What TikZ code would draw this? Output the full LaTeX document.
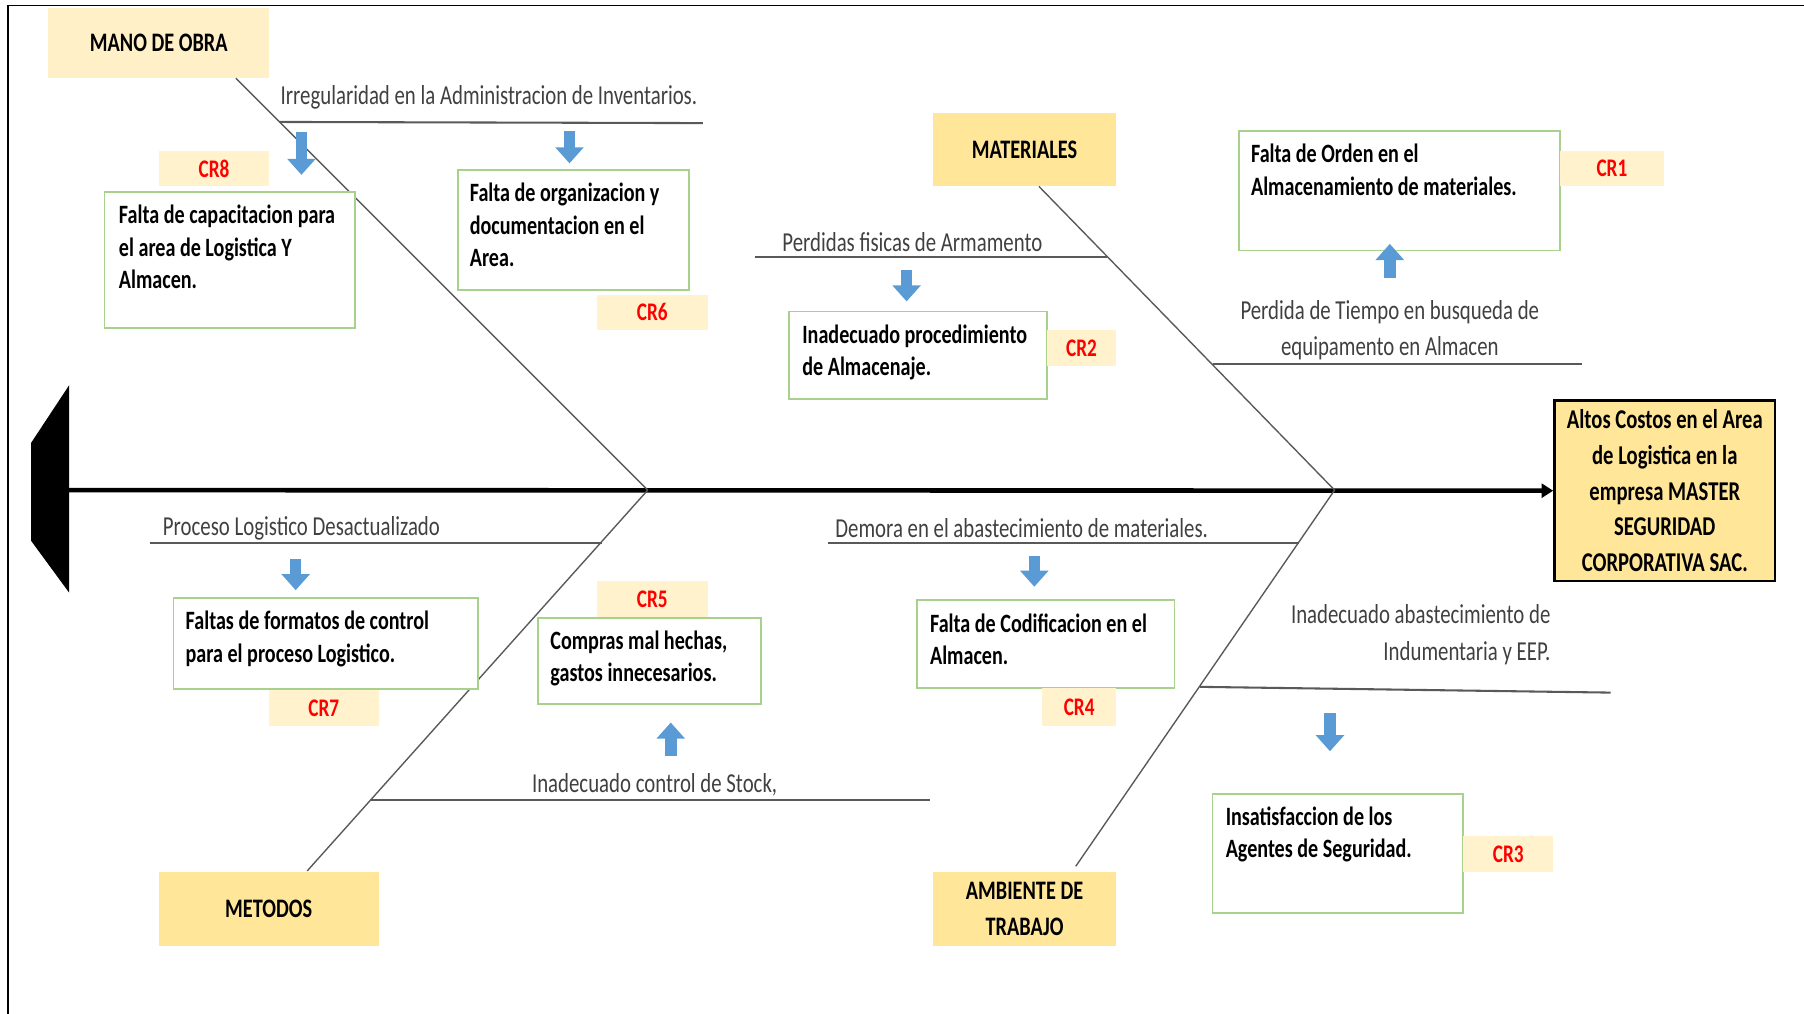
\documentclass[tikz,border=0pt]{standalone}
\usepackage{fontspec}
\setmainfont{Carlito}[FakeStretch=0.76]
\usetikzlibrary{arrows.meta,positioning}
\definecolor{catgold}{HTML}{FFE699}
\definecolor{manocream}{HTML}{FFF0C8}
\definecolor{crcream}{HTML}{FFF2CC}
\definecolor{boxgreen}{HTML}{A9D18E}
\definecolor{arrowblue}{HTML}{5B9BD5}
\definecolor{bonegrey}{HTML}{595959}
\definecolor{causegrey}{HTML}{404040}
\tikzset{
  category/.style={fill=catgold,inner sep=0,align=center,font=\fontsize{11.6}{15.5}\selectfont\bfseries},
  effectbox/.style={fill=catgold,draw=black,line width=1pt,inner sep=0,align=center,font=\fontsize{11.8}{15.5}\selectfont\bfseries},
  causebox/.style={draw=boxgreen,line width=0.8pt,fill=white,inner sep=0,anchor=north west},
  boxtext/.style={inner sep=0,anchor=north west,align=left,font=\fontsize{11.5}{14}\selectfont\bfseries},
  crtag/.style={fill=crcream,inner sep=0,text=red,font=\fontsize{11}{13}\selectfont\bfseries},
  causetext/.style={inner sep=0,text=causegrey,font=\fontsize{11.9}{16}\selectfont},
  bone/.style={draw=bonegrey,line width=0.6pt},
  subbone/.style={draw=bonegrey,line width=0.9pt},
  bluearrow/.style={draw=arrowblue,line width=5pt,-{Triangle[width=12pt,length=7pt]}}
}
\begin{document}
\begin{tikzpicture}[x=0.5pt,y=-0.5pt]
  \useasboundingbox (0,0) rectangle (1568,881);
  \draw[line width=0.6pt] (1568,5) -- (7,5) -- (7,881);

  % spine and tail
  \fill (60,335) -- (27,385) -- (27,470) -- (60,515) -- cycle;
  \path (1447,426.5) node[effectbox,minimum width=96pt,minimum height=78.5pt](effect)
    {Altos Costos en el Area\\de Logistica en la\\empresa MASTER\\SEGURIDAD\\CORPORATIVA SAC.};
  \coordinate (tail) at (60,426);
  \draw[line width=2pt,-{Triangle[length=5pt,width=6pt]}] (tail) -- (effect.west);

  % categories
  \path (138,37.5) node[category,fill=manocream,minimum width=96pt,minimum height=30.5pt](mano){MANO DE OBRA};
  \path (890.5,130) node[category,minimum width=79.5pt,minimum height=32pt](materiales){MATERIALES};
  \path (233.5,790) node[category,minimum width=95.5pt,minimum height=32pt](metodos){METODOS};
  \path (890.5,790) node[category,minimum width=79.5pt,minimum height=32pt](ambiente){AMBIENTE DE\\TRABAJO};

  % main bones
  \coordinate (jleft) at (563,426);
  \coordinate (jright) at (1160,426);
  \coordinate (manoend) at (205,68);
  \coordinate (matend) at (903,162);
  \coordinate (metend) at (267,757);
  \coordinate (ambend) at (935,753);
  \draw[bone] (manoend) -- (jleft);
  \draw[bone] (metend) -- (jleft);
  \draw[bone] (matend) -- (jright);
  \draw[bone] (ambend) -- (jright);

  % causes
  \coordinate (irregA) at (243,106);  \coordinate (irregB) at (611,107);
  \coordinate (perdA) at (656,223);   \coordinate (perdB) at (962,223);
  \coordinate (tiempoA) at (1054,316); \coordinate (tiempoB) at (1375,316);
  \coordinate (procA) at (130,472);   \coordinate (procB) at (523,472);
  \coordinate (demA) at (720,472);    \coordinate (demB) at (1129,472);
  \coordinate (indA) at (1043,597);   \coordinate (indB) at (1400,602);
  \coordinate (stockA) at (322,695);  \coordinate (stockB) at (808,695);
  \draw[subbone] (irregA) -- (irregB);
  \draw[subbone] (perdA) -- (perdB);
  \draw[subbone] (tiempoA) -- (tiempoB);
  \draw[subbone] (procA) -- (procB);
  \draw[subbone] (demA) -- (demB);
  \draw[subbone] (indA) -- (indB);
  \draw[subbone] (stockA) -- (stockB);
  \path (425,85) node[causetext](irreg){Irregularidad en la Administracion de Inventarios.};
  \path (793,210) node[causetext](perd){Perdidas fisicas de Armamento};
  \path (1208,287) node[causetext,align=center](tiempo){Perdida de Tiempo en busqueda de\\equipamento en Almacen};
  \path (262,459) node[causetext](proc){Proceso Logistico Desactualizado};
  \path (888,459) node[causetext](demora){Demora en el abastecimiento de materiales.};
  \path (1348,551.5) node[causetext,align=right,anchor=east](indum){Inadecuado abastecimiento de\\Indumentaria y EEP.};
  \path (569,682) node[causetext](stock){Inadecuado control de Stock,};

  % root causes
  \path (90,166) node[causebox,minimum width=109pt,minimum height=59pt](cr8box){};
  \path (397,147) node[causebox,minimum width=100.5pt,minimum height=52pt](cr6box){};
  \path (685,270) node[causebox,minimum width=112pt,minimum height=38pt](cr2box){};
  \path (1076,113) node[causebox,minimum width=139.5pt,minimum height=52pt](cr1box){};
  \path (150,519) node[causebox,minimum width=132.5pt,minimum height=39.5pt](cr7box){};
  \path (467,536) node[causebox,minimum width=97pt,minimum height=37.5pt](cr5box){};
  \path (796,521) node[causebox,minimum width=112pt,minimum height=38pt](cr4box){};
  \path (1053,689) node[causebox,minimum width=109pt,minimum height=52pt](cr3box){};
  \node[boxtext] at ([xshift=6.5pt,yshift=-6pt]cr8box.north west) {Falta de capacitacion para\\el area de Logistica Y\\Almacen.};
  \node[boxtext] at ([xshift=5.5pt,yshift=-6pt]cr6box.north west) {Falta de organizacion y\\documentacion en el\\Area.};
  \node[boxtext] at ([xshift=6pt,yshift=-6pt]cr2box.north west) {Inadecuado procedimiento\\de Almacenaje.};
  \node[boxtext] at ([xshift=5.5pt,yshift=-6pt]cr1box.north west) {Falta de Orden en el\\Almacenamiento de materiales.};
  \node[boxtext] at ([xshift=5.5pt,yshift=-6pt]cr7box.north west) {Faltas de formatos de control\\para el proceso Logistico.};
  \node[boxtext] at ([xshift=5.5pt,yshift=-6pt]cr5box.north west) {Compras mal hechas,\\gastos innecesarios.};
  \node[boxtext] at ([xshift=6pt,yshift=-6pt]cr4box.north west) {Falta de Codificacion en el\\Almacen.};
  \node[boxtext] at ([xshift=6pt,yshift=-6pt]cr3box.north west) {Insatisfaccion de los\\Agentes de Seguridad.};

  \path (186,146.5) node[crtag,minimum width=48pt,minimum height=15.5pt](cr8){CR8};
  \path (567,271.5) node[crtag,minimum width=48pt,minimum height=15.5pt](cr6){CR6};
  \path (940,302.5) node[crtag,minimum width=30pt,minimum height=15.5pt](cr2){CR2};
  \path (1401,146.5) node[crtag,minimum width=45pt,minimum height=15.5pt](cr1){CR1};
  \path (281.5,615.5) node[crtag,minimum width=47.5pt,minimum height=15.5pt](cr7){CR7};
  \path (567,520.5) node[crtag,minimum width=48pt,minimum height=15.5pt](cr5){CR5};
  \path (938,614.5) node[crtag,minimum width=32pt,minimum height=16.5pt](cr4){CR4};
  \path (1311,742.5) node[crtag,minimum width=39pt,minimum height=15.5pt](cr3){CR3};

  % block arrows
  \coordinate (a8s) at (262,115);  \coordinate (a8e) at (262,152);
  \coordinate (a6s) at (495,114);  \coordinate (a6e) at (495,142);
  \coordinate (a2s) at (788,235);  \coordinate (a2e) at (788,262);
  \coordinate (a1s) at (1208,242); \coordinate (a1e) at (1208,212);
  \coordinate (a7s) at (257,486);  \coordinate (a7e) at (257,513);
  \coordinate (a5s) at (583,657);  \coordinate (a5e) at (583,628);
  \coordinate (a4s) at (899,483);  \coordinate (a4e) at (899,510);
  \coordinate (a3s) at (1156,620); \coordinate (a3e) at (1156,653);
  \draw[bluearrow] (a8s) -- (a8e);
  \draw[bluearrow] (a6s) -- (a6e);
  \draw[bluearrow] (a2s) -- (a2e);
  \draw[bluearrow] (a1s) -- (a1e);
  \draw[bluearrow] (a7s) -- (a7e);
  \draw[bluearrow] (a5s) -- (a5e);
  \draw[bluearrow] (a4s) -- (a4e);
  \draw[bluearrow] (a3s) -- (a3e);
\end{tikzpicture}
\end{document}
